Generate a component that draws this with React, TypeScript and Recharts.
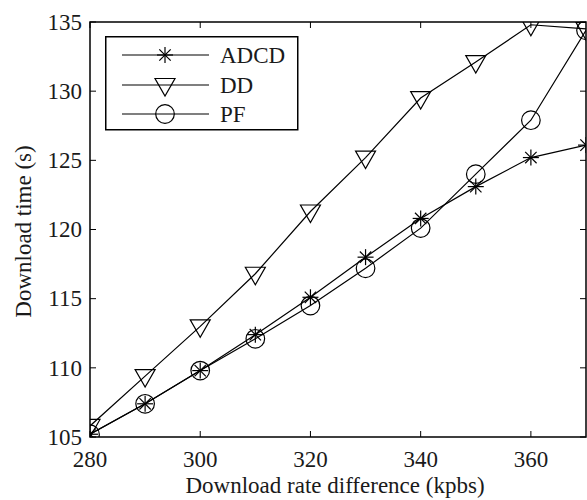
import React from 'react';
import { LineChart, Line, XAxis, YAxis, ReferenceArea, Legend } from 'recharts';

const xValues = [280, 290, 300, 310, 320, 330, 340, 350, 360, 370];
const adcdValues = [105.2, 107.4, 109.8, 112.4, 115.1, 118.0, 120.8, 123.1, 125.2, 126.1];
const ddValues = [105.8, 109.4, 113.0, 116.8, 121.3, 125.2, 129.5, 132.1, 134.8, 134.5];
const pfValues = [105.2, 107.4, 109.8, 112.1, 114.5, 117.2, 120.1, 124.0, 127.9, 134.4];
const xTicks = [280, 300, 320, 340, 360];
const yTicks = [105, 110, 115, 120, 125, 130, 135];
const seriesNames = ['ADCD', 'DD', 'PF'];

const data = xValues.map((x, i) => ({ x, ADCD: adcdValues[i], DD: ddValues[i], PF: pfValues[i] }));

const W = 587;
const H = 500;
const PLOT_TOP = 22;
const PLOT_LEFT = 90;
const PLOT_RIGHT = 586;
const PLOT_BOTTOM = 437;
const FONT = 'Liberation Serif, Times New Roman, Times, DejaVu Serif, serif';
const FS = 23;
const SW = 1.2;
const TXT: React.CSSProperties = { fontFamily: FONT, fontSize: FS };

const Star = ({ cx, cy }: { cx: number; cy: number }) => {
  const s = 8;
  const d = 5.7;
  return (
    <g stroke="#000" strokeWidth={SW} fill="none">
      <line x1={cx - s} y1={cy} x2={cx + s} y2={cy} />
      <line x1={cx} y1={cy - s} x2={cx} y2={cy + s} />
      <line x1={cx - d} y1={cy - d} x2={cx + d} y2={cy + d} />
      <line x1={cx - d} y1={cy + d} x2={cx + d} y2={cy - d} />
    </g>
  );
};

const Tri = ({ cx, cy }: { cx: number; cy: number }) => (
  <path
    d={`M${cx - 10},${cy - 6.5} L${cx + 10},${cy - 6.5} L${cx},${cy + 11} Z`}
    stroke="#000"
    strokeWidth={SW}
    fill="none"
  />
);

const Circ = ({ cx, cy }: { cx: number; cy: number }) => (
  <circle cx={cx} cy={cy} r={9.3} stroke="#000" strokeWidth={SW} fill="none" />
);

const markers: Record<string, any> = { ADCD: Star, DD: Tri, PF: Circ };

const makeDot = (name: string) => (props: any) => {
  const M = markers[name];
  if (props.cx == null || props.cy == null) return <g key={`${name}-${props.index}`} />;
  return (
    <g key={`${name}-${props.index}`}>
      <M cx={props.cx} cy={props.cy} />
    </g>
  );
};

const XTick = (props: any) => {
  const { x, y, payload } = props;
  return (
    <g>
      <line x1={x} x2={x} y1={y} y2={y - 6} stroke="#000" strokeWidth={1} />
      <line x1={x} x2={x} y1={PLOT_TOP} y2={PLOT_TOP + 6} stroke="#000" strokeWidth={1} />
      <text x={x} y={y + 30} textAnchor="middle" style={TXT} fill="#1a1a1a">
        {payload.value}
      </text>
    </g>
  );
};

const YTick = (props: any) => {
  const { x, y, payload } = props;
  return (
    <g>
      <line x1={x} x2={x + 6} y1={y} y2={y} stroke="#000" strokeWidth={1} />
      <line x1={PLOT_RIGHT} x2={PLOT_RIGHT - 6} y1={y} y2={y} stroke="#000" strokeWidth={1} />
      <text x={x - 8} y={y + 7.7} textAnchor="end" style={TXT} fill="#1a1a1a">
        {payload.value}
      </text>
    </g>
  );
};

const LegendBox = () => {
  const rows = [19, 49, 78];
  return (
    <svg width={196} height={96} style={{ display: 'block', overflow: 'visible' }}>
      <rect x={0.75} y={0.75} width={192} height={93} fill="#fff" stroke="#000" strokeWidth={1.5} />
      {seriesNames.map((n, i) => {
        const M = markers[n];
        const y = rows[i];
        return (
          <g key={n}>
            <line x1={17} x2={104} y1={y} y2={y} stroke="#000" strokeWidth={SW} />
            <M cx={60} cy={y} />
            <text x={115} y={y + 7.7} style={TXT} fill="#1a1a1a">
              {n}
            </text>
          </g>
        );
      })}
    </svg>
  );
};

export default function App() {
  return (
    <div style={{ position: 'absolute', left: 0, top: 0, width: W, height: H, background: '#fff' }}>
      <LineChart
        width={W}
        height={H}
        data={data}
        margin={{ top: PLOT_TOP, right: W - PLOT_RIGHT, bottom: 0, left: 0 }}
        style={{ fontFamily: FONT }}
      >
        <XAxis
          dataKey="x"
          type="number"
          domain={[280, 370]}
          ticks={xTicks}
          height={H - PLOT_BOTTOM}
          tickSize={0}
          tickMargin={0}
          tickLine={false}
          axisLine={false}
          tick={<XTick />}
          allowDataOverflow
          label={{
            content: (p: any) => {
              const vb = p.viewBox;
              return (
                <text
                  x={vb.x + vb.width / 2 - 3}
                  y={493}
                  textAnchor="middle"
                  style={TXT}
                  fill="#1a1a1a"
                >
                  Download rate difference (kpbs)
                </text>
              );
            },
          }}
        />
        <YAxis
          type="number"
          domain={[105, 135]}
          ticks={yTicks}
          width={PLOT_LEFT}
          tickSize={0}
          tickMargin={0}
          tickLine={false}
          axisLine={false}
          tick={<YTick />}
          allowDataOverflow
          label={{
            content: (p: any) => {
              const vb = p.viewBox;
              const cx = 23;
              const cy = vb.y + vb.height / 2 + 2;
              return (
                <text
                  x={cx}
                  y={cy}
                  transform={`rotate(-90 ${cx} ${cy})`}
                  textAnchor="middle"
                  dominantBaseline="central"
                  style={TXT}
                  fill="#1a1a1a"
                >
                  Download time (s)
                </text>
              );
            },
          }}
        />
        <ReferenceArea x1={280} x2={370} y1={105} y2={135} fill="none" stroke="#000" strokeWidth={1.5} ifOverflow="visible" />
        {seriesNames.map((n) => (
          <Line
            key={n}
            dataKey={n}
            stroke="#000"
            strokeWidth={SW}
            dot={makeDot(n)}
            activeDot={false}
            isAnimationActive={false}
          />
        ))}
        <Legend
          layout="vertical"
          align="center"
          verticalAlign="middle"
          content={<LegendBox />}
          wrapperStyle={{ left: 105, top: 36, width: 196, height: 96 }}
        />
      </LineChart>
    </div>
  );
}
